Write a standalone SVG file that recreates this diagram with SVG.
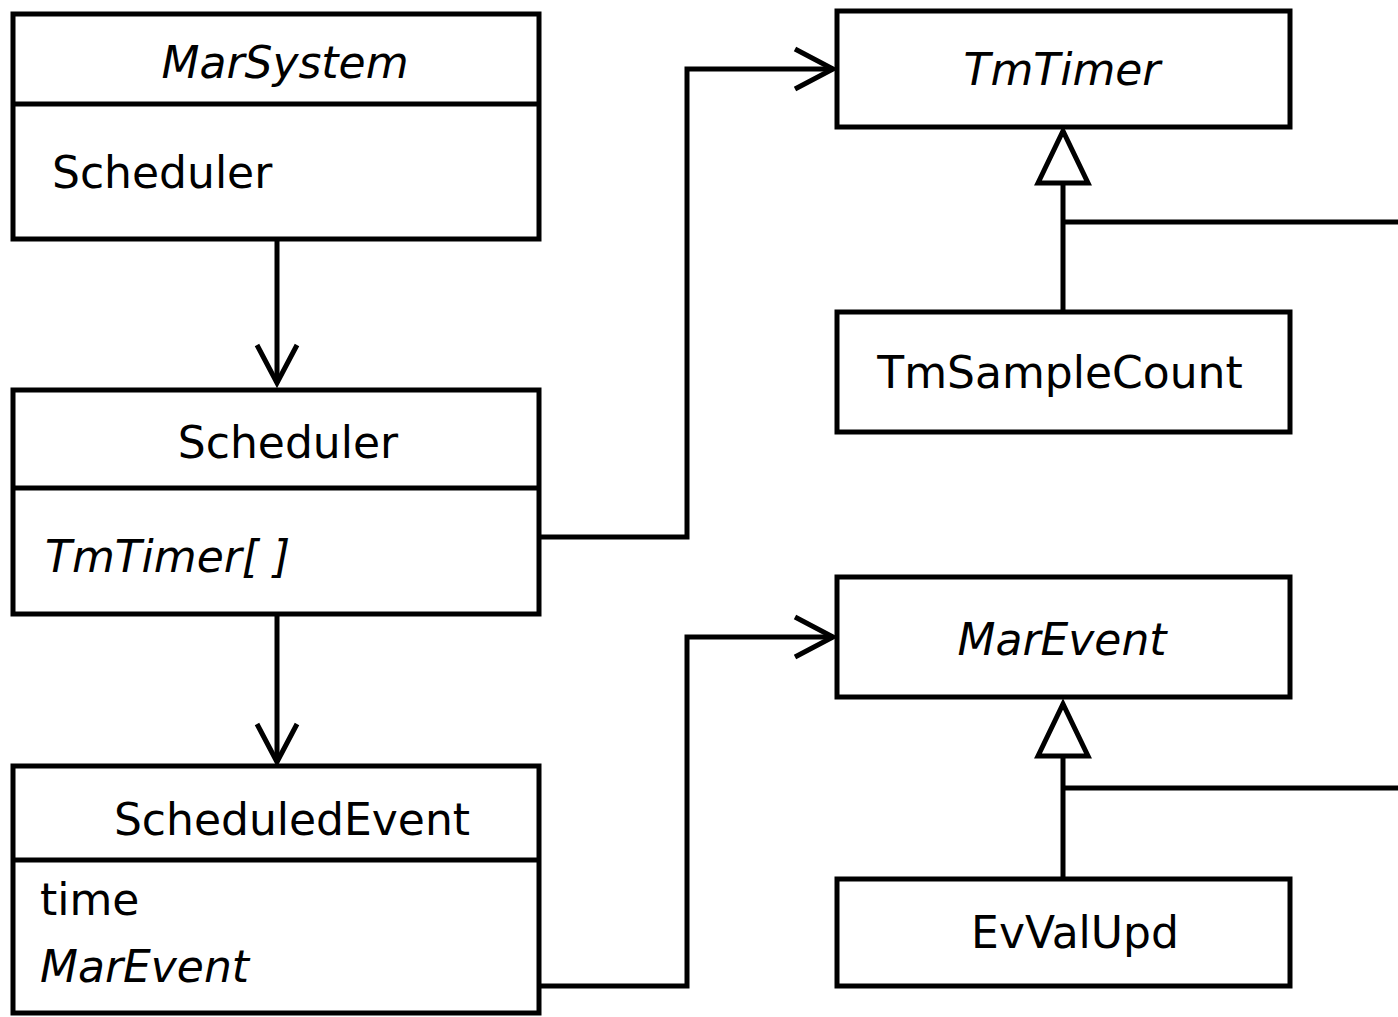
<svg xmlns="http://www.w3.org/2000/svg" width="1398" height="1017" viewBox="0 0 1398 1017">
<style>
.box{fill:#fff;stroke:#000;stroke-width:5}
.div{stroke:#000;stroke-width:5}
.t{font-family:"DejaVu Sans",Verdana,sans-serif;font-size:44px;fill:#000}
.i{font-style:italic}
.c{text-anchor:middle}
.ln{fill:none;stroke:#000;stroke-width:5}
</style>
<defs>
<marker id="open" markerUnits="userSpaceOnUse" markerWidth="44" markerHeight="44" refX="38" refY="20" orient="auto" overflow="visible">
<path d="M0,0 L38,20 L0,40" fill="none" stroke="#000" stroke-width="5"/>
</marker>
<marker id="tri" markerUnits="userSpaceOnUse" markerWidth="60" markerHeight="60" refX="52" refY="25" orient="auto" overflow="visible">
<path d="M0,0 L52,25 L0,50 Z" fill="#fff" stroke="#000" stroke-width="5"/>
</marker>
</defs>
<g id="connectors">
<path class="ln" d="M277,239 V383" marker-end="url(#open)"/>
<path class="ln" d="M277,614 V762" marker-end="url(#open)"/>
<path class="ln" d="M539,537 H687 V69 H833" marker-end="url(#open)"/>
<path class="ln" d="M539,986 H687 V637 H833" marker-end="url(#open)"/>
<path class="ln" d="M1063,312 V131" marker-end="url(#tri)"/>
<path class="ln" d="M1063,222 H1398"/>
<path class="ln" d="M1063,879 V704" marker-end="url(#tri)"/>
<path class="ln" d="M1063,788 H1398"/>
</g>
<g id="MarSystem">
<rect class="box" x="13" y="14" width="526" height="225"/>
<line class="div" x1="13" y1="104" x2="539" y2="104"/>
<text class="t i c" x="285" y="78">MarSystem</text>
<text class="t" x="52" y="188">Scheduler</text>
</g>
<g id="Scheduler">
<rect class="box" x="13" y="390" width="526" height="224"/>
<line class="div" x1="13" y1="488" x2="539" y2="488"/>
<text class="t c" x="288" y="458">Scheduler</text>
<text class="t i" x="45" y="572">TmTimer[ ]</text>
</g>
<g id="ScheduledEvent">
<rect class="box" x="13" y="766" width="526" height="247"/>
<line class="div" x1="13" y1="860" x2="539" y2="860"/>
<text class="t c" x="292" y="835">ScheduledEvent</text>
<text class="t" x="40" y="915">time</text>
<text class="t i" x="40" y="982">MarEvent</text>
</g>
<g id="TmTimer">
<rect class="box" x="837" y="11" width="453" height="116"/>
<text class="t i c" x="1062" y="85">TmTimer</text>
</g>
<g id="TmSampleCount">
<rect class="box" x="837" y="312" width="453" height="120"/>
<text class="t c" x="1060" y="388">TmSampleCount</text>
</g>
<g id="MarEvent">
<rect class="box" x="837" y="577" width="453" height="120"/>
<text class="t i c" x="1062" y="655">MarEvent</text>
</g>
<g id="EvValUpd">
<rect class="box" x="837" y="879" width="453" height="107"/>
<text class="t c" x="1075" y="948">EvValUpd</text>
</g>
</svg>
